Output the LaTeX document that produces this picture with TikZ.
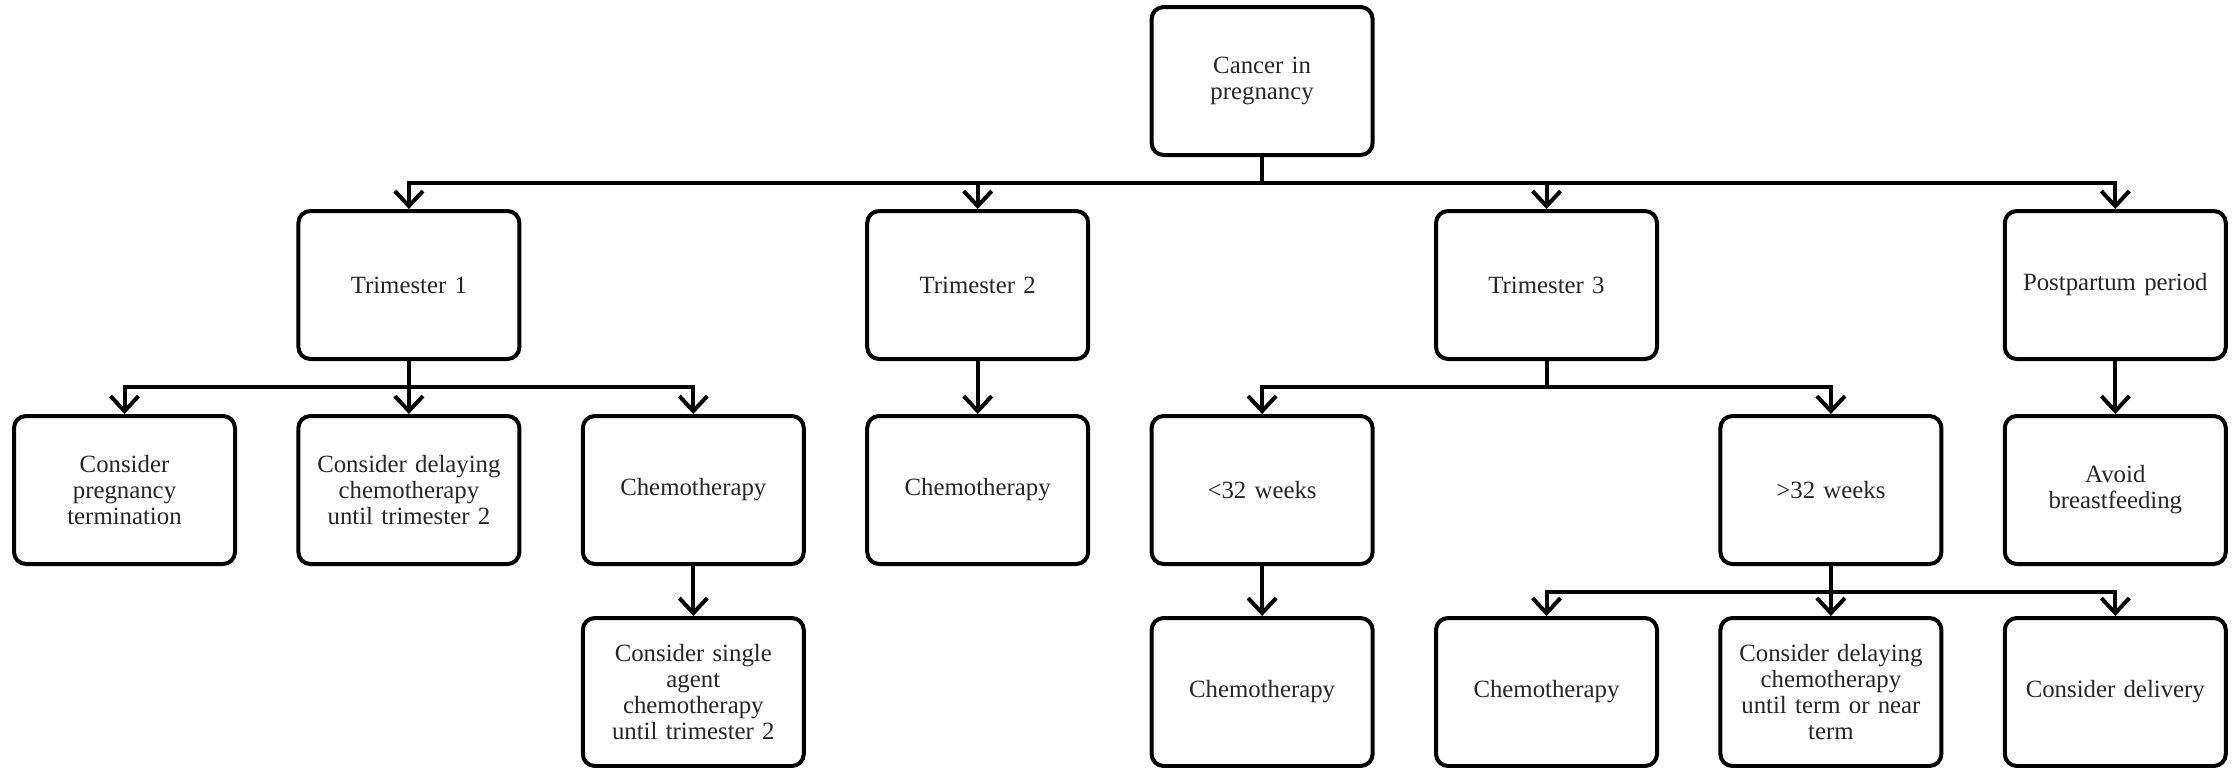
\documentclass[tikz,border=0pt]{standalone}
\usepackage{fontspec}
\setmainfont{Liberation Serif}
\usetikzlibrary{arrows.meta}
\begin{document}
\begin{tikzpicture}[
 x=1pt,y=1pt,
 box/.style={draw=black, line width=2pt, rounded corners=6pt, minimum width=110.5pt, minimum height=74pt, text width=106pt, align=center, font=\fontsize{12.4}{13}\selectfont, text=black!85, fill=white, inner sep=2pt},
 conn/.style={line width=2pt},
 arr/.style={line width=2pt, -{Straight Barb[length=7.5pt,width=14pt]}}
]
\useasboundingbox (0,0) rectangle (1117,-383.5);
% nodes
\node[box] (top) at (631.05,-40.5) {Cancer in\\pregnancy};
\node[box] (t1) at (204.45,-142.5) {Trimester 1};
\node[box] (t2) at (488.85,-142.5) {Trimester 2};
\node[box] (t3) at (773.25,-142.5) {Trimester 3};
\node[box] (pp) at (1057.65,-142.5) {Postpartum period};
\node[box] (term) at (62.25,-245) {Consider\\pregnancy\\termination};
\node[box] (delay1) at (204.45,-245) {Consider delaying\\chemotherapy\\until trimester 2};
\node[box] (chemo1) at (346.65,-245) {Chemotherapy};
\node[box] (chemo2) at (488.85,-245) {Chemotherapy};
\node[box] (lt32) at (631.05,-245) {<32 weeks};
\node[box] (gt32) at (915.45,-245) {>32 weeks};
\node[box] (avoid) at (1057.65,-245) {Avoid\\breastfeeding};
\node[box] (single) at (346.65,-346) {Consider single\\agent\\chemotherapy\\until trimester 2};
\node[box] (chemo3) at (631.05,-346) {Chemotherapy};
\node[box] (chemo4) at (773.25,-346) {Chemotherapy};
\node[box] (delay3) at (915.45,-346) {Consider delaying\\chemotherapy\\until term or near\\term};
\node[box] (deliv) at (1057.65,-346) {Consider delivery};
% bus coordinates
\coordinate (b1) at ([yshift=-13pt]top.south);
\coordinate (b2) at ([yshift=-13pt]t1.south);
\coordinate (b3) at ([yshift=-13pt]t3.south);
\coordinate (b4) at ([yshift=-13pt]gt32.south);
% connectors
\draw[conn] (top.south) -- (b1);
\foreach \n in {t1,t2,t3,pp} \draw[arr] (b1) -| (\n.north);
\draw[conn] (t1.south) -- (b2);
\foreach \n in {term,delay1,chemo1} \draw[arr] (b2) -| (\n.north);
\draw[conn] (t3.south) -- (b3);
\foreach \n in {lt32,gt32} \draw[arr] (b3) -| (\n.north);
\draw[conn] (gt32.south) -- (b4);
\foreach \n in {chemo4,delay3,deliv} \draw[arr] (b4) -| (\n.north);
\draw[arr] (t2.south) -- (chemo2.north);
\draw[arr] (pp.south) -- (avoid.north);
\draw[arr] (chemo1.south) -- (single.north);
\draw[arr] (lt32.south) -- (chemo3.north);
\end{tikzpicture}
\end{document}
